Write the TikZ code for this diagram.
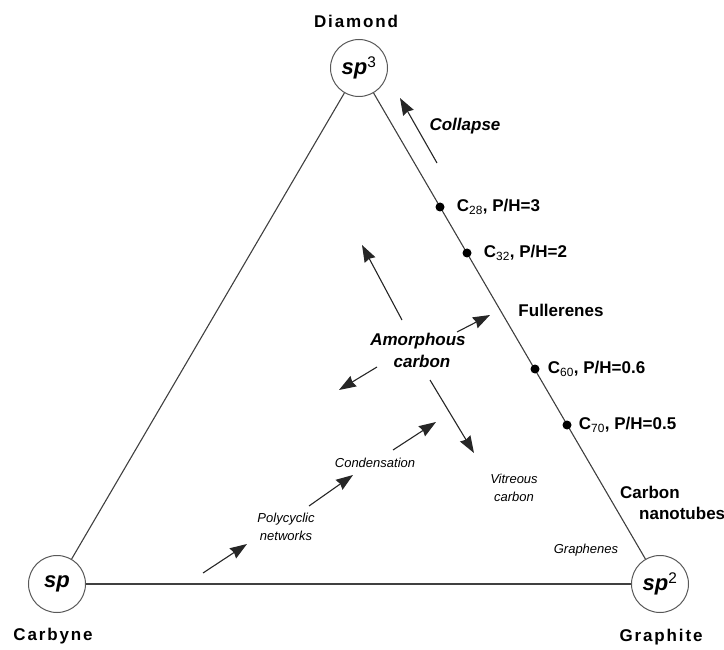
\documentclass[tikz,border=0pt]{standalone}
\usepackage{fontspec}
\setmainfont{Liberation Sans}
\newfontfamily\cornerfont[LetterSpace=11]{Liberation Sans}
\usetikzlibrary{arrows.meta,positioning}

\begin{document}
\begin{tikzpicture}[x=1pt,y=-1pt]
    \useasboundingbox (0,0) rectangle (724,650);

    % hybridisation corners
    \begin{scope}[every node/.style={circle,draw=black!65,line width=1pt,minimum size=57pt,inner sep=0pt,
        font=\fontsize{22}{24}\selectfont\bfseries\itshape}]
      \node (sp3) at (359,68) {sp\textsuperscript{\mdseries\upshape 3}};
      \node (sp) at (57,584) {sp};
      \node (sp2) at (660,584) {sp\textsuperscript{\mdseries\upshape 2}};
    \end{scope}

    \begin{scope}[every node/.style={font=\fontsize{17}{20}\cornerfont\bfseries}]
      \node (diamond) at (356,21) {Diamond};
      \node (carbyne) at (53,636) {Carbyne};
      \node (graphite) at (661,637) {Graphite};
    \end{scope}

    \begin{scope}[every path/.style={draw=black!75,line width=1.1pt}]
      \path (sp3) -- (sp);
      \path (sp3) -- (sp2);
      \path (sp) -- (sp2);
    \end{scope}

    % fullerenes on the sp3--sp2 side
    \begin{scope}[every node/.style={circle,fill=black,inner sep=0pt,minimum size=9pt}]
      \node (c28) at (440,207) {};
      \node (c32) at (467,253) {};
      \node (c60) at (535,369) {};
      \node (c70) at (567,425) {};
    \end{scope}

    \begin{scope}[every node/.style={inner sep=0pt,font=\fontsize{17}{21}\selectfont\bfseries}]
      \node[right=12pt of c28] (l28) {C\textsubscript{\mdseries 28}, P/H=3};
      \node[right=12pt of c32] (l32) {C\textsubscript{\mdseries 32}, P/H=2};
      \node[right=8pt of c60] (l60) {C\textsubscript{\mdseries 60}, P/H=0.6};
      \node[right=7pt of c70] (l70) {C\textsubscript{\mdseries 70}, P/H=0.5};
      \node (fullerenes) at (561,310) {Fullerenes};
      \node[align=left,anchor=west] (tubes) at (620,503) {Carbon\\\hspace*{19pt}nanotubes};
      \node[font=\fontsize{17}{21}\selectfont\bfseries\itshape] (collapse) at (465,126) {Collapse};
      \node[align=center,font=\fontsize{17}{22}\selectfont\bfseries\itshape] (amorph) at (418,350) {Amorphous\\\hspace*{8pt}carbon};
    \end{scope}

    \begin{scope}[every node/.style={align=center,inner sep=0pt,font=\fontsize{13}{17.5}\selectfont\itshape}]
      \node (cond) at (375,463) {Condensation};
      \node (poly) at (286,527) {Polycyclic\\networks};
      \node (vitreous) at (514,488) {Vitreous\\carbon};
      \node (graphenes) at (586,550) {Graphenes};
    \end{scope}

    % arrow ends
    \coordinate (colS) at (437,163);
    \coordinate (colE) at (400,98);
    \coordinate (upS) at (402,320);
    \coordinate (upE) at (362,245);
    \coordinate (rtS) at (457,332);
    \coordinate (rtE) at (490,315);
    \coordinate (lfS) at (377,367);
    \coordinate (lfE) at (339,390);
    \coordinate (dnS) at (430,380);
    \coordinate (dnE) at (474,453);
    \coordinate (cdS) at (393,450);
    \coordinate (cdE) at (436,422);
    \coordinate (plS) at (309,506);
    \coordinate (plE) at (353,475);
    \coordinate (btS) at (203,573);
    \coordinate (btE) at (247,544);

    \begin{scope}[every path/.style={draw=black!85,line width=1.1pt,
        -{Stealth[length=17pt,width=12pt,inset=1.5pt]}}]
      \path (colS) -- (colE);
      \path (upS) -- (upE);
      \path (rtS) -- (rtE);
      \path (lfS) -- (lfE);
      \path (dnS) -- (dnE);
      \path (cdS) -- (cdE);
      \path (plS) -- (plE);
      \path (btS) -- (btE);
    \end{scope}
\end{tikzpicture}
\end{document}
